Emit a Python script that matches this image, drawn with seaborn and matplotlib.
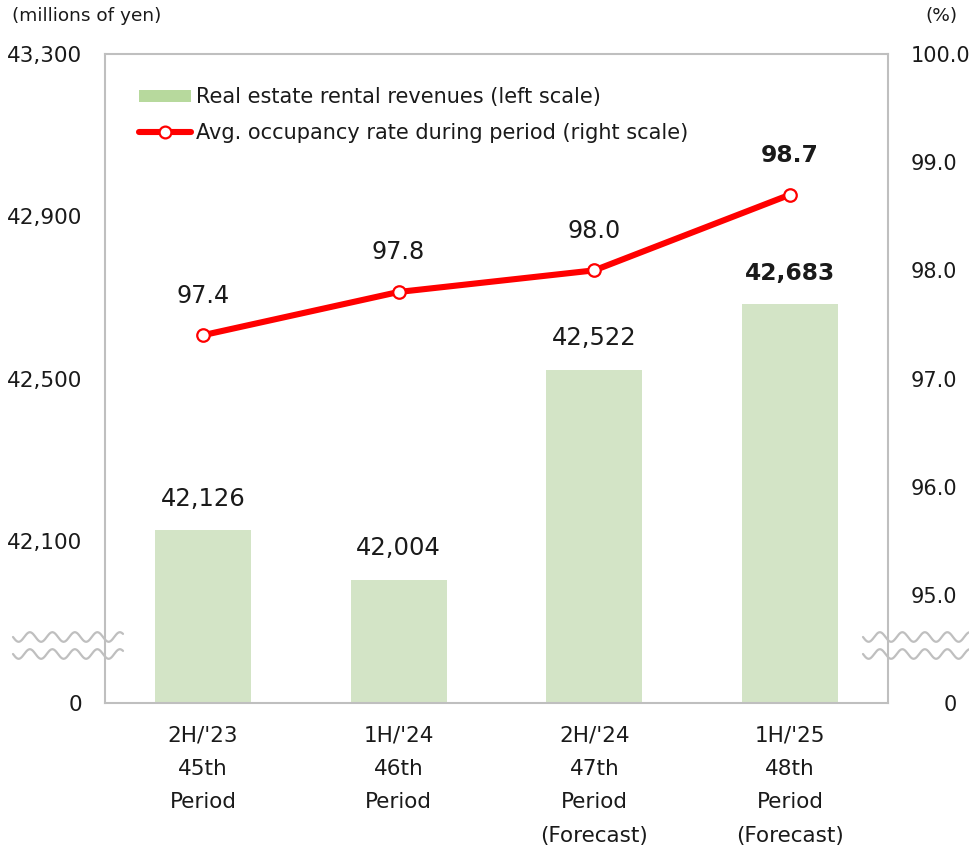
import numpy as np
import pandas as pd
import matplotlib
matplotlib.use("Agg")
import matplotlib.pyplot as plt
from matplotlib.lines import Line2D
from matplotlib.patches import Patch
import seaborn as sns

# Data
periods = ["2H/'23\n45th\nPeriod",
           "1H/'24\n46th\nPeriod",
           "2H/'24\n47th\nPeriod\n(Forecast)",
           "1H/'25\n48th\nPeriod\n(Forecast)"]
revenues = [42126, 42004, 42522, 42683]          # millions of yen
occupancy = [97.4, 97.8, 98.0, 98.7]             # %
bold_flags = [False, False, False, True]

left_ticks = [41700, 42100, 42500, 42900, 43300]
left_ticklabels = ["0", "42,100", "42,500", "42,900", "43,300"]
right_ticks = [94, 95, 96, 97, 98, 99, 100]
right_ticklabels = ["0", "95.0", "96.0", "97.0", "98.0", "99.0", "100.0"]

BAR_COLOR = "#D3E4C6"
LEGEND_BAR_COLOR = "#B7D99D"
LINE_COLOR = "#FF0000"
GRID_GRAY = "#BFBFBF"
TEXT = "#1A1A1A"

sns.set_theme(style="white")
plt.rcParams["font.family"] = ["DejaVu Sans"]

W, H = 970, 846
fig = plt.figure(figsize=(W / 100, H / 100), dpi=100)
fig.patch.set_facecolor("white")

x0, x1, y0, y1 = 105, 888, 54, 703
ax = fig.add_axes([x0 / W, 1 - y1 / H, (x1 - x0) / W, (y1 - y0) / H])

df = pd.DataFrame({"period": periods, "revenue": revenues, "occupancy": occupancy})

sns.barplot(data=df, x="period", y="revenue", ax=ax, color=BAR_COLOR,
            width=0.49, saturation=1, edgecolor="none")
ax.set_ylim(41700, 43300)
ax.set_xlim(-0.5, 3.5)
ax.set_yticks(left_ticks)
ax.set_yticklabels(left_ticklabels)
ax.set_xlabel("")
ax.set_ylabel("")
ax.tick_params(axis="y", length=0, pad=16.5, labelsize=15.5, labelcolor=TEXT)
ax.tick_params(axis="x", length=0, pad=16.5, labelsize=15.5, labelcolor=TEXT)
for lbl in ax.get_xticklabels():
    lbl.set_linespacing(1.83)
    lbl.set_verticalalignment("top")
for sp in ax.spines.values():
    sp.set_visible(True)
    sp.set_color(GRID_GRAY)
    sp.set_linewidth(1.5)
ax.grid(False)

# Bar value labels
for i, (v, b) in enumerate(zip(revenues, bold_flags)):
    ax.annotate(f"{v:,}", xy=(i, v), xytext=(0, 22.5), textcoords="offset points",
                ha="center", va="center", fontsize=16.8 if b else 17.5, color=TEXT,
                fontweight="bold" if b else "normal")

# Occupancy line on the right axis
ax2 = ax.twinx()
sns.lineplot(x=np.arange(len(occupancy)), y=occupancy, ax=ax2, color=LINE_COLOR,
             linewidth=4.4, marker="o", markersize=9, markerfacecolor="white",
             markeredgecolor=LINE_COLOR, markeredgewidth=1.6)
ax2.set_ylim(94, 100)
ax2.set_xlim(-0.5, 3.5)
ax2.set_yticks(right_ticks)
ax2.set_yticklabels(right_ticklabels)
ax2.set_ylabel("")
ax2.tick_params(axis="y", length=0, pad=16, labelsize=15, labelcolor=TEXT)
for sp in ax2.spines.values():
    sp.set_visible(False)
ax2.grid(False)

# the broken-axis "0" sits further right than the other right-hand labels
zero_lbl = ax2.get_yticklabels()[0]
zero_lbl.set_horizontalalignment("right")
zero_lbl.set_x(1 + 47 / (x1 - x0))

for i, (v, b) in enumerate(zip(occupancy, bold_flags)):
    ax2.annotate(f"{v:.1f}", xy=(i, v), xytext=(0, 28.5), textcoords="offset points",
                 ha="center", va="center", fontsize=16.8 if b else 17.2, color=TEXT,
                 fontweight="bold" if b else "normal")

# Legend
handles = [
    Patch(facecolor=LEGEND_BAR_COLOR, edgecolor="none"),
    Line2D([], [], color=LINE_COLOR, linewidth=4.4, marker="o", markersize=8.5,
           markerfacecolor="white", markeredgecolor=LINE_COLOR, markeredgewidth=1.6),
]
labels = ["Real estate rental revenues (left scale)",
          "Avg. occupancy rate during period (right scale)"]
leg = ax2.legend(handles, labels, loc="upper left", bbox_to_anchor=(0.02, 0.978),
                 frameon=False, fontsize=15, handlelength=2.5, handleheight=0.5,
                 handletextpad=0.2, labelspacing=0.75)
for t in leg.get_texts():
    t.set_color(TEXT)

# Unit captions
fig.text(12 / W, 1 - 16 / H, "(millions of yen)", ha="left", va="center",
         fontsize=13.3, color=TEXT)
fig.text(925 / W, 1 - 16 / H, "(%)", ha="left", va="center",
         fontsize=13.3, color=TEXT)

# Axis break marks (wavy lines)
def wave(xa, xb, yc):
    xs = np.linspace(xa, xb, 200)
    ys = yc + 4.8 * np.sin(2 * np.pi * (xs - xa) / 22.5)
    fig.add_artist(Line2D(xs / W, 1 - ys / H, transform=fig.transFigure,
                          color=GRID_GRAY, linewidth=1.6))

for yc in (637, 654):
    wave(13, 123, yc)
    wave(863, 970, yc)

fig.savefig("out.png", dpi=100, facecolor="white")
